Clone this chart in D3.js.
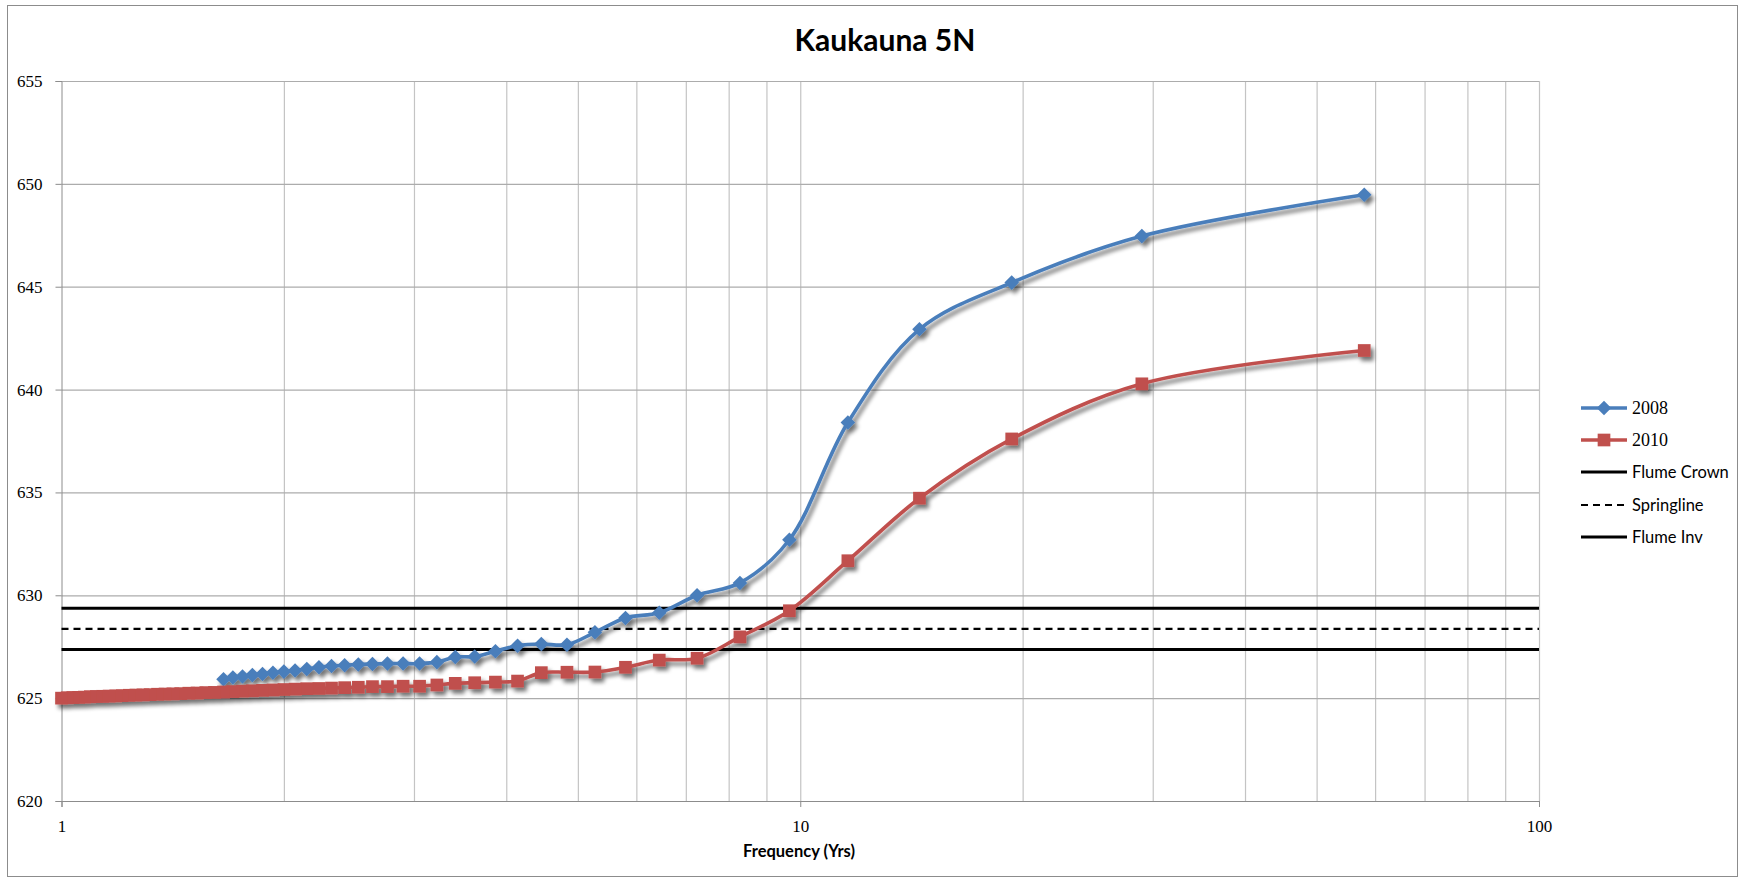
<!DOCTYPE html>
<html>
<head>
<meta charset="utf-8">
<script src="https://cdn.jsdelivr.net/npm/d3@7"></script>
<style>
  html, body { margin: 0; padding: 0; background: #fff; }
  svg { display: block; }
</style>
</head>
<body>
<svg id="chart" width="1745" height="881"></svg>
<script>
// Return period (years) for each ranked flood, largest first
const freq = [58.00, 29.00, 19.33, 14.50, 11.60, 9.667, 8.286, 7.250, 6.444, 5.800,
  5.273, 4.833, 4.462, 4.143, 3.867, 3.625, 3.412, 3.222, 3.053, 2.900,
  2.762, 2.636, 2.522, 2.417, 2.320, 2.231, 2.148, 2.071, 2.000, 1.933,
  1.871, 1.813, 1.758, 1.706, 1.657, 1.611, 1.568, 1.526, 1.487, 1.450,
  1.415, 1.381, 1.349, 1.318, 1.289, 1.261, 1.234, 1.208, 1.184, 1.160,
  1.137, 1.115, 1.094, 1.074, 1.055, 1.036, 1.018, 1.000];

// Water surface elevation, 2008 survey
const elev2008 = [649.47, 647.46, 645.20, 642.93, 638.40, 632.70, 630.60, 630.00, 629.15, 628.90,
  628.20, 627.60, 627.63, 627.55, 627.28, 627.02, 627.00, 626.75, 626.68, 626.68,
  626.68, 626.66, 626.64, 626.60, 626.56, 626.50, 626.42, 626.34, 626.29, 626.23,
  626.17, 626.12, 626.05, 626.00, 625.92];

// Water surface elevation, 2010 survey
const elev2010 = [641.90, 640.28, 637.60, 634.72, 631.68, 629.25, 627.98, 626.94, 626.85, 626.50,
  626.27, 626.26, 626.24, 625.83, 625.78, 625.75, 625.72, 625.64, 625.58, 625.58,
  625.56, 625.56, 625.53, 625.51, 625.49, 625.47, 625.46, 625.44, 625.42, 625.40,
  625.38, 625.36, 625.34, 625.32, 625.30, 625.28, 625.27, 625.25, 625.24, 625.22,
  625.21, 625.20, 625.19, 625.17, 625.16, 625.15, 625.14, 625.12, 625.11, 625.10,
  625.09, 625.08, 625.07, 625.05, 625.04, 625.03, 625.02, 625.00];

// Flume reference elevations
const refNames = ["Flume Crown", "Springline", "Flume Inv"];
const refElev = [629.37, 628.37, 627.37];

const yTicks = [620, 625, 630, 635, 640, 645, 650, 655];
const xTicks = [1, 10, 100];
const xMinor = [2, 3, 4, 5, 6, 7, 8, 9, 20, 30, 40, 50, 60, 70, 80, 90];

const svg = d3.select("#chart");
const W = 1745, H = 881;
const plot = { left: 61.5, right: 1539, top: 81, bottom: 801 };

const x = d3.scaleLog().domain([1, 100]).range([plot.left, plot.right]);
const y = d3.scaleLinear().domain([620, 655]).range([plot.bottom, plot.top]);

// soft drop shadow used by the data series
const defs = svg.append("defs");
const f = defs.append("filter").attr("id", "shadow")
  .attr("x", "-20%").attr("y", "-20%").attr("width", "140%").attr("height", "140%");
f.append("feGaussianBlur").attr("in", "SourceAlpha").attr("stdDeviation", 2).attr("result", "b");
f.append("feOffset").attr("in", "b").attr("dx", 2.5).attr("dy", 3.5).attr("result", "o");
f.append("feComponentTransfer").attr("in", "o").attr("result", "s")
  .append("feFuncA").attr("type", "linear").attr("slope", 0.55);
const fm = f.append("feMerge");
fm.append("feMergeNode").attr("in", "s");
fm.append("feMergeNode").attr("in", "SourceGraphic");

// outer chart frame
svg.append("rect").attr("x", 7.5).attr("y", 5.5).attr("width", W - 15).attr("height", H - 10)
  .attr("fill", "#fff").attr("stroke", "#8c8c8c").attr("stroke-width", 1);

// title
svg.append("text").attr("x", 885).attr("y", 51).attr("text-anchor", "middle")
  .style("font-family", "Lato, 'Open Sans', sans-serif").style("font-weight", "bold")
  .style("font-size", "30px").attr("fill", "#000").text("Kaukauna 5N");

// vertical grid (major + minor log lines)
svg.append("g").attr("transform", `translate(0,${plot.bottom})`)
  .call(d3.axisBottom(x).tickValues(xMinor.concat([10, 100])).tickSize(-(plot.bottom - plot.top)).tickFormat(""))
  .call(g => g.select(".domain").remove())
  .call(g => g.selectAll("line").attr("stroke", "#c4c4c4").attr("stroke-width", 1.2));

// horizontal grid
svg.append("g").attr("transform", `translate(${plot.left},0)`)
  .call(d3.axisLeft(y).tickValues(yTicks).tickSize(-(plot.right - plot.left)).tickFormat(""))
  .call(g => g.select(".domain").remove())
  .call(g => g.selectAll("line").attr("stroke", "#acacac").attr("stroke-width", 1.2));

// y axis
svg.append("g").attr("transform", `translate(${plot.left},0)`)
  .call(d3.axisLeft(y).tickValues(yTicks).tickSize(6).tickPadding(13).tickFormat(d3.format("d")))
  .call(g => g.select(".domain").attr("stroke", "#8c8c8c"))
  .call(g => g.selectAll("line").attr("stroke", "#8c8c8c"))
  .call(g => g.selectAll("text").attr("fill", "#000")
    .style("font-family", "'Liberation Serif', 'DejaVu Serif', serif").style("font-size", "17px"));

// x axis
svg.append("g").attr("transform", `translate(0,${plot.bottom})`)
  .call(d3.axisBottom(x).tickValues(xTicks).tickSize(6).tickPadding(13).tickFormat(d3.format("d")))
  .call(g => g.select(".domain").attr("stroke", "#8c8c8c"))
  .call(g => g.selectAll("line").attr("stroke", "#8c8c8c"))
  .call(g => g.selectAll("text").attr("fill", "#000")
    .style("font-family", "'Liberation Serif', 'DejaVu Serif', serif").style("font-size", "17px"));

// x axis title
svg.append("text").attr("x", 799).attr("y", 857).attr("text-anchor", "middle")
  .style("font-family", "Lato, 'Open Sans', sans-serif").style("font-weight", "bold")
  .style("font-size", "16.5px").attr("fill", "#000").text("Frequency (Yrs)");

// flume reference lines
const refDash = [null, "7,5", null];
refElev.forEach((v, i) => {
  svg.append("line")
    .attr("x1", plot.left).attr("x2", plot.right)
    .attr("y1", y(v)).attr("y2", y(v))
    .attr("stroke", "#000").attr("stroke-width", i === 1 ? 2.2 : 3)
    .attr("stroke-dasharray", refDash[i]);
});

// data series
const series = [
  { name: "2008", values: elev2008, color: "#4a7ebb", marker: "diamond" },
  { name: "2010", values: elev2010, color: "#c0504d", marker: "square" }
];
const line = d3.line().x(d => x(d[0])).y(d => y(d[1])).curve(d3.curveCatmullRom.alpha(0.5));
const diamond = d3.symbol().type(d3.symbolDiamond2).size(135);
const square = d3.symbol().type(d3.symbolSquare2).size(205);

series.forEach(s => {
  const pts = s.values.map((v, i) => [freq[i], v]);
  const g = svg.append("g").attr("filter", "url(#shadow)");
  g.append("path").datum(pts).attr("d", line)
    .attr("fill", "none").attr("stroke", s.color).attr("stroke-width", 3.6);
  g.selectAll("path.m").data(pts).join("path").attr("class", "m")
    .attr("transform", d => `translate(${x(d[0])},${y(d[1])})`)
    .attr("d", s.marker === "diamond" ? diamond : square)
    .attr("fill", s.color);
});

// legend
const legend = [
  { name: "2008", color: "#4a7ebb", marker: "diamond", serif: true },
  { name: "2010", color: "#c0504d", marker: "square", serif: true },
  { name: "Flume Crown", color: "#000", dash: null, w: 3 },
  { name: "Springline", color: "#000", dash: "7,5", w: 2.2 },
  { name: "Flume Inv", color: "#000", dash: null, w: 3 }
];
const legY = [408, 440, 472, 505, 537];
legend.forEach((d, i) => {
  const g = svg.append("g").attr("transform", `translate(0,${legY[i]})`);
  if (d.marker) {
    g.append("line").attr("x1", 1581).attr("x2", 1627).attr("stroke", d.color).attr("stroke-width", 3.6);
    g.append("path").attr("transform", "translate(1604,0)")
      .attr("d", d.marker === "diamond" ? diamond : square).attr("fill", d.color);
  } else {
    g.append("line").attr("x1", 1581).attr("x2", 1627).attr("stroke", d.color)
      .attr("stroke-width", d.w).attr("stroke-dasharray", d.dash);
  }
  g.append("text").attr("x", 1632).attr("y", 6)
    .style("font-family", d.serif ? "'Liberation Serif', serif" : "Lato, 'Open Sans', sans-serif")
    .style("font-size", d.serif ? "18px" : "16.5px").attr("fill", "#000").text(d.name);
});
</script>
</body>
</html>
